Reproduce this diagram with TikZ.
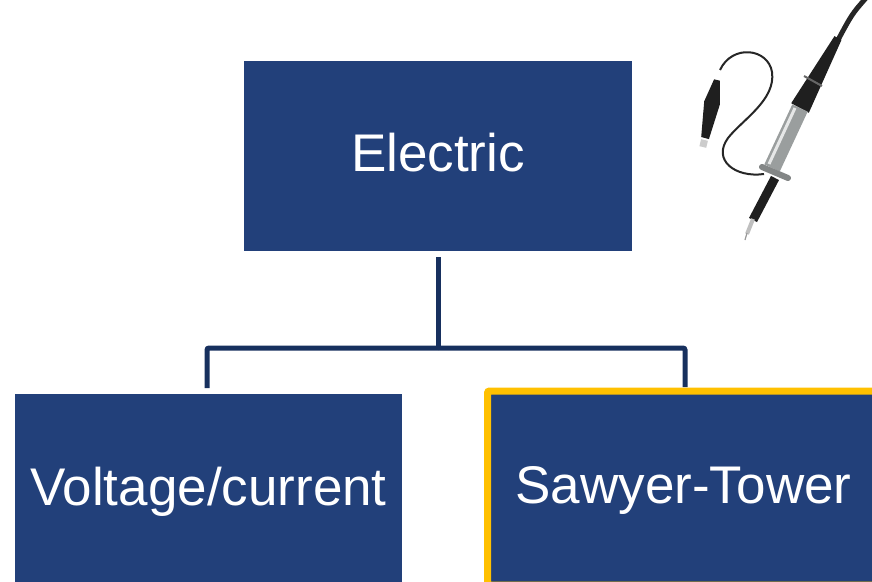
\documentclass[tikz,border=0pt]{standalone}
\usepackage{fontspec}
\setmainfont{Liberation Sans}
\definecolor{boxblue}{HTML}{22407A}
\definecolor{linkblue}{HTML}{17305E}
\definecolor{hilite}{HTML}{FFC000}
\definecolor{probegrey}{HTML}{9A9E9E}
\begin{document}
\begin{tikzpicture}[x=1pt,y=-1pt,
  block/.style={rectangle, fill=boxblue, inner sep=0pt, text=white,
    font=\fontsize{53}{60}\selectfont, text height=38pt, text depth=8pt},
  conn/.style={draw=linkblue, line width=5pt, rounded corners=2pt}]
\useasboundingbox (0,0) rectangle (872,581);

% boxes
\node[block, minimum width=388pt, minimum height=190pt] (top) at (438,156) {Electric};
\node[block, minimum width=387pt, minimum height=192pt] (left) at (208.5,490) {Voltage/current};
\node[block, draw=hilite, line width=7pt, rounded corners=2pt,
      minimum width=392pt, minimum height=194pt] (right) at (683.5,488) {Sawyer-Tower};

% tree connectors
\coordinate (j) at (438,348);
\draw[conn] ([yshift=-6pt]top.south) -- (j);
\draw[conn] (j) -| (207,388);
\draw[conn] (j) -| (685,387);

% oscilloscope probe
% cable
\draw[line width=5pt, black!85, line cap=round] (866,-2) .. controls (852,14) .. (838,40);
% black head
\fill[black!88] (841.5,39.9) -- (834.5,36.1) -- (791.2,103.2) -- (808.8,112.8) -- cycle;
\draw[line width=2pt, black!60] (822,86) -- (804,76);
% grey handle
\draw[line width=17pt, probegrey] (800,108) -- (772,168);
\draw[line width=3pt, white!75!probegrey] (795,108) -- (769,164);
% flange
\draw[line width=6pt, probegrey!85!black, line cap=round] (762,167) -- (788,178);
% black tip
\draw[line width=9pt, black!88] (775,178) -- (753,220);
% metal tip
\draw[line width=4pt, black!25] (753,219) -- (747,234);
\draw[line width=1.2pt, black!40] (747,233) -- (745,240);
% ground lead
\draw[line width=2pt, black!85] (764,174) .. controls (735,178) and (712,160) .. (728,138)
  .. controls (742,120) and (776,100) .. (772,72)
  .. controls (768,48) and (732,44) .. (720,70);
% crocodile clip
\fill[black!88] (719.9,80.7) -- (714.1,79.3) -- (704.2,101.3) -- (701.2,137) -- (708.9,139.1) -- (719.8,104.7) -- cycle;
\draw[line width=7pt, black!20] (704.5,140) -- (702.8,147);
\end{tikzpicture}
\end{document}
